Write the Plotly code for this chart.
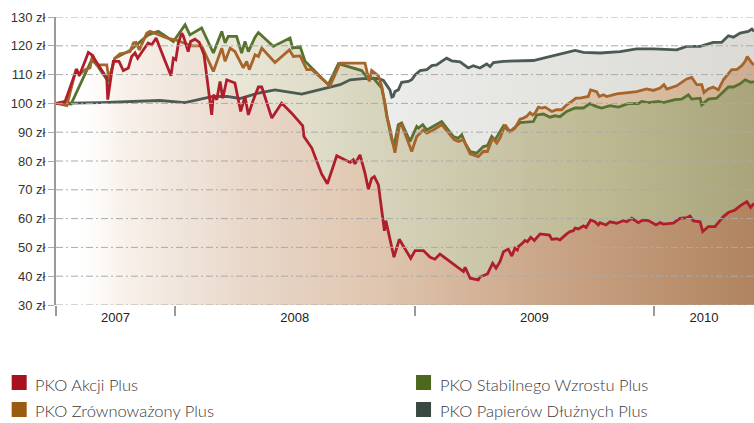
import plotly.graph_objects as go

# time axis in decimal years, values in zł
akcji_t = [2007.503, 2007.541, 2007.589, 2007.600, 2007.624, 2007.638, 2007.652, 2007.687, 2007.715, 2007.719,
           2007.742, 2007.766, 2007.784, 2007.805, 2007.819, 2007.833, 2007.844, 2007.868, 2007.888, 2007.903,
           2007.921, 2007.951, 2007.983, 2007.993, 2008.003, 2008.014, 2008.028, 2008.035, 2008.055, 2008.065,
           2008.083, 2008.101, 2008.121, 2008.153, 2008.160, 2008.174, 2008.188, 2008.199, 2008.216, 2008.250,
           2008.274, 2008.292, 2008.306, 2008.327, 2008.348, 2008.362, 2008.404, 2008.445, 2008.487, 2008.533,
           2008.538, 2008.571, 2008.591, 2008.612, 2008.636, 2008.675, 2008.731, 2008.744, 2008.751, 2008.772,
           2008.793, 2008.807, 2008.821, 2008.832, 2008.849, 2008.870, 2008.874, 2008.880, 2008.895, 2008.900,
           2008.914, 2008.936, 2008.984, 2009.002, 2009.037, 2009.065, 2009.085, 2009.106, 2009.204, 2009.211,
           2009.232, 2009.266, 2009.273, 2009.304, 2009.326, 2009.340, 2009.357, 2009.371, 2009.391, 2009.406,
           2009.419, 2009.429, 2009.433, 2009.447, 2009.461, 2009.471, 2009.485, 2009.500, 2009.524, 2009.563,
           2009.573, 2009.593, 2009.607, 2009.635, 2009.649, 2009.663, 2009.670, 2009.684, 2009.705, 2009.716,
           2009.735, 2009.753, 2009.767, 2009.774, 2009.799, 2009.816, 2009.844, 2009.872, 2009.886, 2009.907,
           2009.934, 2009.953, 2009.976, 2010.008, 2010.025, 2010.039, 2010.080, 2010.108, 2010.136, 2010.150,
           2010.164, 2010.192, 2010.203, 2010.226, 2010.254, 2010.289, 2010.310, 2010.338, 2010.359, 2010.387,
           2010.403, 2010.417]
akcji_v = [100.0, 100.7, 111.9, 109.6, 114.6, 117.7, 116.9, 112.3, 108.8, 101.3,
           114.6, 114.6, 111.4, 112.3, 116.3, 117.5, 115.7, 118.6, 121.0, 120.4,
           122.7, 116.3, 109.6, 115.7, 115.2, 121.0, 124.4, 123.3, 118.0, 121.5,
           122.3, 121.2, 116.9, 96.0, 103.0, 101.3, 107.6, 101.8, 108.2, 107.1,
           97.2, 102.4, 96.0, 101.3, 105.7, 105.7, 94.9, 100.1, 96.6, 92.2,
           88.5, 84.5, 80.4, 75.5, 72.1, 81.8, 79.5, 80.4, 79.0, 82.1,
           75.8, 70.2, 74.0, 74.6, 71.7, 57.2, 55.8, 59.3, 53.5, 52.0,
           46.6, 52.8, 46.2, 48.9, 48.9, 46.6, 45.9, 47.7, 41.6, 43.1,
           39.3, 38.7, 39.8, 40.7, 44.5, 42.8, 45.1, 48.5, 49.4, 47.0,
           49.7, 49.1, 50.3, 51.2, 52.4, 52.0, 53.5, 52.4, 54.7, 54.3,
           52.8, 53.0, 52.6, 54.7, 55.5, 55.8, 56.7, 56.4, 57.5, 56.9,
           59.5, 58.9, 57.8, 58.6, 57.8, 58.9, 58.4, 59.3, 58.9, 60.1,
           58.6, 59.5, 59.3, 57.8, 58.6, 58.1, 58.4, 60.1, 60.3, 60.9,
           59.2, 58.9, 55.5, 57.2, 57.2, 60.7, 62.1, 63.0, 64.4, 65.9,
           63.9, 65.3]

zrown_t = [2007.503, 2007.548, 2007.587, 2007.600, 2007.624, 2007.645, 2007.656, 2007.673, 2007.715, 2007.724,
           2007.749, 2007.770, 2007.791, 2007.812, 2007.826, 2007.837, 2007.851, 2007.882, 2007.896, 2007.916,
           2007.965, 2008.000, 2008.042, 2008.070, 2008.111, 2008.160, 2008.195, 2008.209, 2008.230, 2008.250,
           2008.285, 2008.299, 2008.310, 2008.334, 2008.348, 2008.362, 2008.417, 2008.477, 2008.494, 2008.522,
           2008.550, 2008.571, 2008.647, 2008.689, 2008.793, 2008.811, 2008.821, 2008.849, 2008.863, 2008.877,
           2008.884, 2008.895, 2008.905, 2008.918, 2008.936, 2008.946, 2008.988, 2009.009, 2009.037, 2009.051,
           2009.072, 2009.113, 2009.165, 2009.183, 2009.204, 2009.232, 2009.266, 2009.287, 2009.304, 2009.326,
           2009.343, 2009.357, 2009.378, 2009.398, 2009.419, 2009.440, 2009.454, 2009.468, 2009.482, 2009.493,
           2009.503, 2009.517, 2009.531, 2009.545, 2009.573, 2009.593, 2009.614, 2009.635, 2009.656, 2009.674,
           2009.691, 2009.712, 2009.725, 2009.735, 2009.760, 2009.771, 2009.788, 2009.802, 2009.844, 2009.927,
           2009.969, 2009.997, 2010.025, 2010.041, 2010.053, 2010.094, 2010.115, 2010.136, 2010.157, 2010.178,
           2010.199, 2010.208, 2010.226, 2010.247, 2010.268, 2010.289, 2010.324, 2010.345, 2010.366, 2010.380,
           2010.389, 2010.408, 2010.417]
zrown_v = [100.0, 99.2, 111.9, 109.9, 111.7, 112.3, 116.9, 113.4, 113.4, 108.2,
           115.7, 117.2, 117.5, 118.0, 121.0, 121.2, 118.6, 124.4, 125.0, 124.4,
           122.7, 122.1, 121.0, 120.0, 120.0, 111.1, 119.2, 114.6, 119.2, 118.0,
           112.3, 114.6, 111.7, 116.9, 116.3, 119.2, 114.2, 118.6, 116.3, 116.5,
           111.7, 111.7, 106.1, 114.0, 114.0, 107.6, 111.4, 109.6, 105.9, 98.9,
           95.5, 92.0, 88.0, 82.9, 92.0, 92.6, 83.3, 88.5, 90.8, 89.7,
           90.5, 92.6, 87.4, 86.8, 87.4, 82.5, 81.5, 83.3, 83.3, 88.0,
           86.2, 88.0, 92.6, 90.2, 91.4, 94.5, 94.9, 95.5, 96.8, 96.0,
           96.6, 98.7, 98.4, 98.7, 97.2, 97.8, 97.8, 99.5, 100.7, 101.8,
           101.8, 102.2, 102.4, 104.7, 104.1, 102.4, 103.0, 102.4, 103.3, 104.1,
           105.0, 104.5, 105.3, 106.5, 105.0, 106.1, 107.3, 108.5, 109.0, 106.5,
           106.5, 103.8, 105.0, 105.7, 104.7, 108.2, 111.7, 111.7, 113.1, 114.6,
           116.3, 114.0, 113.4]

stab_t = [2007.503, 2007.566, 2007.652, 2007.673, 2007.721, 2007.749, 2007.812, 2007.888, 2007.930, 2007.993,
          2008.042, 2008.062, 2008.111, 2008.160, 2008.195, 2008.209, 2008.222, 2008.257, 2008.278, 2008.292,
          2008.306, 2008.334, 2008.348, 2008.410, 2008.480, 2008.491, 2008.522, 2008.543, 2008.640, 2008.682,
          2008.779, 2008.807, 2008.828, 2008.863, 2008.877, 2008.886, 2008.905, 2008.914, 2008.932, 2008.946,
          2008.981, 2009.009, 2009.016, 2009.034, 2009.051, 2009.113, 2009.162, 2009.183, 2009.197, 2009.211,
          2009.232, 2009.259, 2009.287, 2009.304, 2009.322, 2009.336, 2009.371, 2009.398, 2009.419, 2009.440,
          2009.496, 2009.510, 2009.538, 2009.565, 2009.586, 2009.607, 2009.635, 2009.670, 2009.705, 2009.732,
          2009.760, 2009.781, 2009.816, 2009.851, 2009.892, 2009.934, 2009.948, 2009.976, 2010.018, 2010.039,
          2010.087, 2010.115, 2010.143, 2010.157, 2010.192, 2010.199, 2010.226, 2010.261, 2010.310, 2010.331,
          2010.359, 2010.380, 2010.403, 2010.417]
stab_v = [100.0, 99.8, 115.2, 113.4, 107.6, 115.7, 118.4, 123.8, 125.0, 121.5,
          127.3, 123.8, 126.2, 117.5, 125.0, 121.0, 123.3, 123.3, 117.5, 121.5,
          118.0, 123.0, 124.6, 119.8, 122.7, 119.2, 119.8, 114.6, 106.5, 113.8,
          111.4, 108.5, 108.8, 105.3, 99.9, 94.9, 87.3, 85.0, 92.6, 93.2,
          86.8, 92.0, 91.4, 92.6, 90.8, 93.7, 88.5, 87.9, 89.1, 86.2,
          83.3, 82.7, 85.0, 85.3, 88.5, 87.3, 92.2, 90.2, 91.7, 93.3,
          93.7, 96.0, 96.3, 95.2, 95.7, 95.4, 97.2, 98.4, 98.4, 99.9,
          98.9, 98.4, 99.2, 98.7, 99.9, 99.9, 100.7, 100.3, 100.7, 100.3,
          101.3, 101.5, 103.0, 101.5, 101.8, 99.5, 101.5, 101.8, 105.7, 105.7,
          106.8, 108.2, 107.3, 107.6]

dluz_t = [2007.503, 2007.687, 2007.937, 2008.042, 2008.158, 2008.217, 2008.271, 2008.348, 2008.417, 2008.529,
          2008.689, 2008.731, 2008.786, 2008.849, 2008.870, 2008.886, 2008.897, 2008.905, 2008.911, 2008.918,
          2008.932, 2008.946, 2008.974, 2008.988, 2009.002, 2009.023, 2009.051, 2009.072, 2009.092, 2009.113,
          2009.134, 2009.155, 2009.190, 2009.224, 2009.245, 2009.273, 2009.301, 2009.315, 2009.329, 2009.371,
          2009.440, 2009.496, 2009.538, 2009.607, 2009.670, 2009.705, 2009.774, 2009.858, 2009.927, 2009.997,
          2010.094, 2010.136, 2010.192, 2010.247, 2010.282, 2010.310, 2010.331, 2010.359, 2010.393, 2010.408,
          2010.417]
dluz_v = [100.0, 100.3, 101.0, 100.3, 102.4, 102.4, 101.7, 103.6, 104.7, 103.2,
          106.5, 108.2, 108.6, 108.7, 108.0, 106.1, 104.7, 102.2, 102.4, 104.1,
          104.7, 107.3, 107.6, 108.2, 109.9, 111.4, 111.7, 113.1, 113.4, 114.6,
          115.7, 114.8, 114.4, 112.3, 113.1, 112.3, 113.7, 112.8, 114.2, 114.6,
          114.9, 114.9, 115.7, 117.2, 118.4, 117.7, 117.5, 118.0, 118.9, 118.9,
          118.6, 119.8, 119.8, 121.2, 121.2, 123.5, 123.0, 124.4, 125.0, 125.8,
          125.0]

names = ["PKO Akcji Plus", "PKO Zrównoważony Plus", "PKO Stabilnego Wzrostu Plus", "PKO Papierów Dłużnych Plus"]
years = ["2007", "2008", "2009", "2010"]
year_starts = [2007.503, 2008, 2009, 2010]
t_end = 2010.417
y_ticks = list(range(30, 131, 10))

line_colors = {"akcji": "#b01e2c", "zrown": "#a7652b", "stab": "#587231", "dluz": "#4b5a52"}
legend_colors = ["#a8121e", "#9a5a10", "#4b681c", "#39493f"]
fill_scales = {
    "dluz": [[0, "#ffffff"], [0.04, "#ffffff"], [0.5, "#ebebe9"], [1, "#dbdad4"]],
    "zrown": [[0, "#ffffff"], [0.04, "#ffffff"], [0.5, "#eadccc"], [0.75, "#dcc6ae"], [1, "#cfae8f"]],
    "stab": [[0, "#ffffff"], [0.04, "#ffffff"], [0.1, "#f7f5ec"], [0.44, "#d9d6bf"], [0.64, "#c8c4a5"],
             [0.78, "#bdb992"], [1, "#a9a47a"]],
    "akcji": [[0, "#ffffff"], [0.04, "#ffffff"], [0.1, "#f7f0ea"], [0.27, "#e9d8ca"], [0.47, "#dfc5ae"],
              [0.72, "#c9a385"], [1, "#b0845f"]],
}

series = {
    "akcji": (akcji_t, akcji_v),
    "zrown": (zrown_t, zrown_v),
    "stab": (stab_t, stab_v),
    "dluz": (dluz_t, dluz_v),
}

fig = go.Figure()

# gradient areas first (each one down to the floor), later ones cover earlier ones
for key in ["dluz", "zrown", "stab", "akcji"]:
    t, v = series[key]
    fig.add_trace(go.Scatter(
        x=t, y=v, mode="lines", fill="tozeroy", line=dict(width=0),
        fillgradient=dict(type="horizontal", colorscale=fill_scales[key]),
        hoverinfo="skip", showlegend=False))

# then the lines on top
for key in ["dluz", "stab", "zrown", "akcji"]:
    t, v = series[key]
    fig.add_trace(go.Scatter(
        x=t, y=v, mode="lines", line=dict(color=line_colors[key], width=2.8),
        showlegend=False))

# dash-dot grid drawn over the fills
shapes = []
for v in y_ticks:
    shapes.append(dict(type="line", xref="paper", x0=0, x1=1, yref="y", y0=v, y1=v,
                       line=dict(color="#aaaaaa", width=1, dash="7px,3px,2px,3px"), layer="above"))

# legend in two columns below the chart: (square x, square top, text y)
legend_pos = [(-0.0635, -0.2431, -0.2785), (-0.0635, -0.3368, -0.3690),
              (0.5158, -0.2431, -0.2785), (0.5158, -0.3368, -0.3690)]
annotations = []
for (lx, ly, ty), name, col in zip(legend_pos, names, legend_colors):
    shapes.append(dict(type="rect", xref="paper", yref="paper", x0=lx, x1=lx + 0.0215,
                       y0=ly, y1=ly - 0.052, fillcolor=col, line=dict(width=0)))
    annotations.append(dict(text=name, xref="paper", yref="paper", x=lx + 0.031, y=ty,
                            xanchor="left", yanchor="middle", showarrow=False,
                            font=dict(family="Lato", size=16.5, weight=300, color="#3a3a3a")))

label_pos = [(a + b) / 2 for a, b in zip(year_starts, year_starts[1:] + [t_end])]

fig.update_layout(
    width=754, height=423,
    margin=dict(l=56, r=0, t=17, b=118),
    plot_bgcolor="white", paper_bgcolor="white",
    showlegend=False,
    shapes=shapes,
    annotations=annotations,
    xaxis=dict(
        range=[year_starts[0], t_end], showgrid=False, zeroline=False, showline=False,
        tickvals=label_pos, ticktext=years, ticks="", ticklabelstandoff=3,
        tickfont=dict(family="Liberation Sans", size=13, color="#222"),
        minor=dict(tickvals=year_starts, ticks="outside", ticklen=10, tickwidth=2,
                   tickcolor="#9a9a9a", showgrid=False),
    ),
    yaxis=dict(
        range=[30, 130], tickvals=y_ticks, ticktext=[f"{v} zł" for v in y_ticks],
        showgrid=False, zeroline=False,
        showline=True, linecolor="#9a9a9a", linewidth=2,
        ticks="outside", ticklen=6, tickwidth=1, tickcolor="#aaaaaa",
        tickfont=dict(family="Liberation Sans", size=13, color="#333"),
    ),
)

fig.write_html("out.html", config={"displayModeBar": False},
               post_script="document.body.style.margin='0';")
